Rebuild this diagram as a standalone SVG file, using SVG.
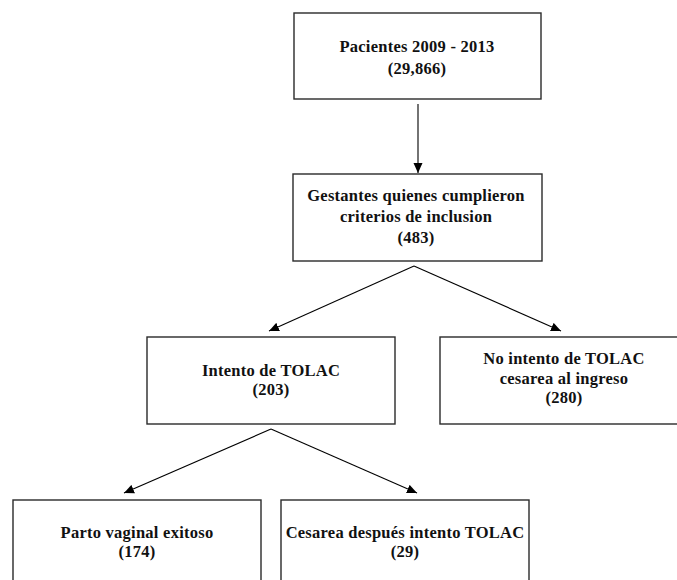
<svg xmlns="http://www.w3.org/2000/svg" width="677" height="580" viewBox="0 0 677 580">
<defs>
<marker id="ah" markerUnits="userSpaceOnUse" markerWidth="10" markerHeight="10" viewBox="0 0 10 10" refX="10" refY="5" orient="auto">
<path d="M0,0.5 L10,5 L0,9.5 Z" fill="#000"/>
</marker>
<style>
.box{fill:#fff;stroke:#2a2a2a;stroke-width:1.4}
.t{font-family:"Liberation Serif","Times New Roman",serif;font-weight:bold;font-size:16.5px;letter-spacing:0.25px;fill:#111;text-anchor:middle}
.c{stroke:#000;stroke-width:1.1;fill:none;marker-end:url(#ah)}
</style>
</defs>
<rect width="677" height="580" fill="#fff"/>
<g id="connectors">
<line class="c" x1="418" y1="104" x2="418" y2="173"/>
<line class="c" x1="414" y1="266" x2="269" y2="331"/>
<line class="c" x1="414" y1="266" x2="561" y2="331"/>
<line class="c" x1="271" y1="429" x2="124" y2="493"/>
<line class="c" x1="271" y1="429" x2="417" y2="493"/>
</g>
<g id="n1">
<rect class="box" x="294" y="13" width="247" height="86"/>
<text class="t" x="417" y="52">Pacientes 2009 - 2013</text>
<text class="t" x="417" y="74">(29,866)</text>
</g>
<g id="n2">
<rect class="box" x="293" y="174" width="249" height="87"/>
<text class="t" x="416" y="201">Gestantes quienes cumplieron</text>
<text class="t" x="416" y="222">criterios de inclusion</text>
<text class="t" x="416" y="243">(483)</text>
</g>
<g id="n3">
<rect class="box" x="147" y="337" width="248" height="87"/>
<text class="t" x="271" y="376">Intento de TOLAC</text>
<text class="t" x="271" y="395">(203)</text>
</g>
<g id="n4">
<rect class="box" x="440" y="337" width="248" height="87"/>
<text class="t" x="564" y="364">No intento de TOLAC</text>
<text class="t" x="564" y="384">cesarea al ingreso</text>
<text class="t" x="564" y="403">(280)</text>
</g>
<g id="n5">
<rect class="box" x="13" y="500" width="248" height="100"/>
<text class="t" x="137" y="538">Parto vaginal exitoso</text>
<text class="t" x="137" y="557">(174)</text>
</g>
<g id="n6">
<rect class="box" x="281" y="500" width="248" height="100"/>
<text class="t" x="405" y="538">Cesarea después intento TOLAC</text>
<text class="t" x="405" y="557">(29)</text>
</g>
</svg>
